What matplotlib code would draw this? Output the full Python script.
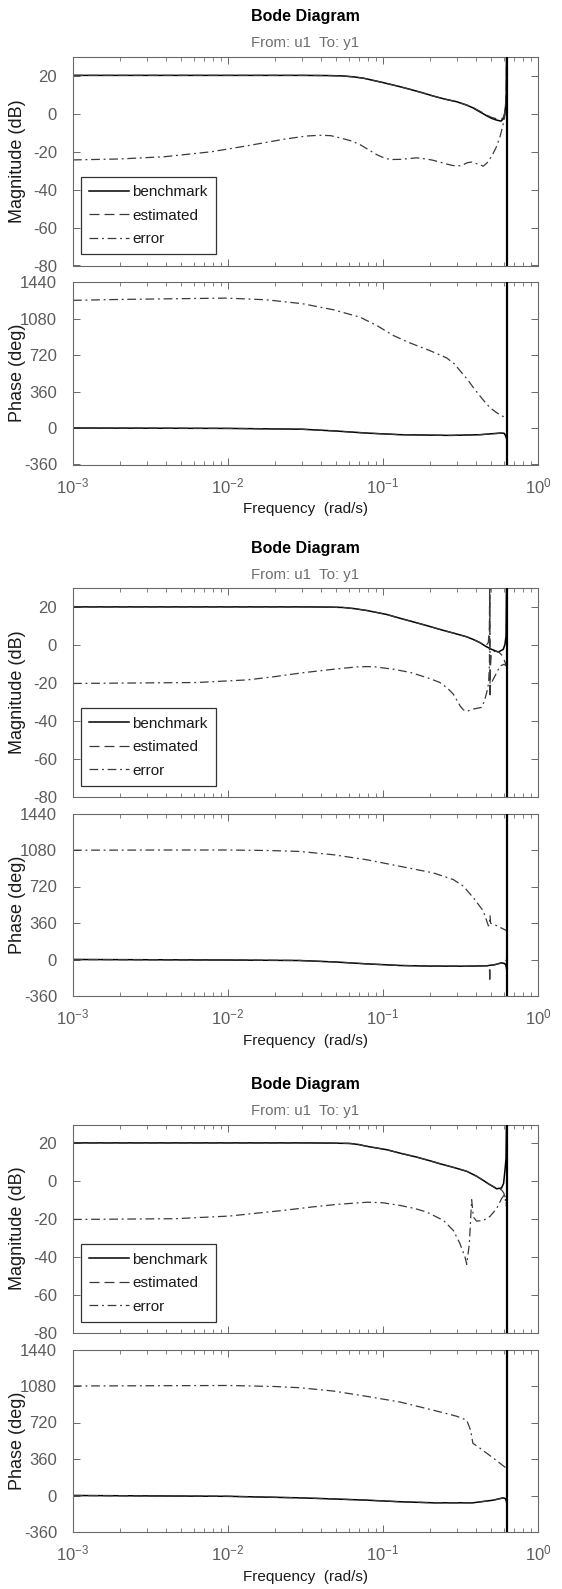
"""Three stacked Bode diagrams: benchmark vs estimated model and their error."""

import matplotlib
matplotlib.use("Agg")
import matplotlib.pyplot as plt
from matplotlib.ticker import LogLocator, NullFormatter, FixedLocator

plt.rcParams["font.family"] = ["Liberation Sans", "DejaVu Sans"]
plt.rcParams["mathtext.fontset"] = "custom"
plt.rcParams["mathtext.rm"] = "Liberation Sans"
plt.rcParams["mathtext.it"] = "Liberation Sans:italic"
plt.rcParams["mathtext.bf"] = "Liberation Sans:bold"
plt.rcParams["axes.unicode_minus"] = False

NYQUIST = 0.628

# ---------------- panel 1 ----------------
P1_MAG_FREQ = [0.001, 0.01, 0.03, 0.045, 0.055, 0.065, 0.075, 0.085, 0.1, 0.125, 0.15,
               0.18, 0.211, 0.25, 0.299, 0.347, 0.38, 0.402, 0.44, 0.466, 0.5, 0.541,
               0.577, 0.595, 0.608, 0.618, 0.624, 0.628]
P1_BENCH_MAG = [20.3, 20.3, 20.3, 20.2, 20.0, 19.5, 18.8, 17.8, 16.5, 14.6, 12.9,
                11.1, 9.4, 7.8, 6.4, 4.6, 3.2, 2.0, 0.2, -1.0, -2.3, -3.3,
                -3.8, -2.8, -0.5, 4.0, 11.0, 40.0]
P1_EST_MAG = [20.3, 20.3, 20.3, 20.2, 20.0, 19.5, 18.8, 17.8, 16.5, 14.6, 12.9,
              11.1, 9.4, 7.8, 6.4, 4.7, 3.4, 2.3, 0.6, -0.6, -1.8, -2.6,
              -2.9, -2.2, 0.0, 5.0, 11.0, 40.0]
P1_ERR_MAG_FREQ = [0.001, 0.002, 0.0039, 0.0078, 0.0134, 0.0229, 0.032, 0.039, 0.046,
                   0.053, 0.062, 0.071, 0.081, 0.091, 0.1, 0.111, 0.13, 0.165, 0.19,
                   0.211, 0.25, 0.28, 0.299, 0.315, 0.33, 0.35, 0.373, 0.41, 0.444,
                   0.47, 0.502, 0.535, 0.569, 0.59, 0.604, 0.615, 0.622, 0.628]
P1_ERR_MAG = [-24.3, -23.8, -22.6, -20.0, -16.8, -13.4, -11.7, -11.3, -11.5,
              -12.7, -14.2, -16.2, -19.0, -21.5, -23.0, -24.1, -24.0, -23.2, -23.8,
              -24.5, -26.2, -27.2, -27.5, -27.3, -26.8, -25.8, -25.4, -26.5, -27.6,
              -25.8, -22.4, -18.0, -12.0, -7.0, -3.3, 0.5, 3.7, 5.0]
P1_PH_FREQ = [0.001, 0.01, 0.03, 0.05, 0.0785, 0.129, 0.27, 0.423, 0.569, 0.605, 0.615,
              0.622, 0.628]
P1_BENCH_PH = [0, -4, -12, -30, -50, -66, -73, -66, -50, -52, -70, -90, -110]
P1_EST_PH = [0, -4, -12, -30, -50, -66, -73, -66, -52, -50, -60, -80, -95]
P1_ERR_PH_FREQ = [0.001, 0.002, 0.0046, 0.0097, 0.0175, 0.0302, 0.0479, 0.0711, 0.0912,
                  0.1167, 0.1493, 0.2009, 0.2576, 0.29, 0.3141, 0.35, 0.3828, 0.42,
                  0.4667, 0.5, 0.5408, 0.58, 0.6223, 0.628]
P1_ERR_PH = [1259, 1268, 1275, 1281, 1265, 1226, 1166, 1093, 1011,
             912, 839, 763, 691, 630, 565, 480, 399, 320,
             235, 190, 151, 122, 102, 100]

# ---------------- panel 2 ----------------
P2_BENCH_MAG_FREQ = [0.001, 0.01, 0.03, 0.045, 0.055, 0.065, 0.0785, 0.1057, 0.13, 0.165,
                     0.2, 0.233, 0.29, 0.347, 0.385, 0.423, 0.46, 0.502, 0.555, 0.597,
                     0.612, 0.622, 0.628]
P2_BENCH_MAG = [20.3, 20.3, 20.3, 20.2, 20.0, 19.4, 18.4, 16.3, 14.2, 11.9,
                10.0, 8.4, 6.3, 4.5, 3.0, 1.4, -0.5, -2.1, -3.5, -2.1,
                0.5, 4.9, 40.0]
P2_EST_MAG_FREQ = [0.001, 0.01, 0.03, 0.045, 0.055, 0.065, 0.0785, 0.1057, 0.13, 0.165,
                   0.2, 0.233, 0.29, 0.347, 0.385, 0.423, 0.46, 0.478, 0.486, 0.4885,
                   0.4905, 0.493, 0.5, 0.53, 0.56, 0.59, 0.61, 0.628]
P2_EST_MAG = [20.3, 20.3, 20.3, 20.2, 20.0, 19.4, 18.4, 16.3, 14.2, 11.9,
              10.0, 8.4, 6.3, 4.5, 3.0, 1.4, -0.3, 1.5, 10.0, 45.0,
              -27.5, -12.0, -4.0, -3.0, -3.6, -5.5, -8.5, -11.0]
P2_ERR_MAG_FREQ = [0.001, 0.0063, 0.0134, 0.02, 0.03, 0.0479, 0.0671, 0.0785, 0.0882,
                   0.1167, 0.1507, 0.2, 0.233, 0.26, 0.284, 0.3, 0.314, 0.33, 0.347,
                   0.383, 0.434, 0.45, 0.467, 0.48, 0.486, 0.4885, 0.4905, 0.5, 0.515,
                   0.569, 0.604, 0.628]
P2_ERR_MAG = [-20.1, -19.6, -18.2, -16.5, -14.5, -12.6, -11.4, -11.2, -11.3,
              -12.6, -14.3, -17.5, -19.6, -22.5, -25.7, -29.0, -31.9, -34.0, -34.8,
              -33.6, -32.7, -29.5, -24.8, -20.0, -10.0, 45.0, -22.0, -20.0, -17.8,
              -10.9, -10.0, -11.0]
P2_BENCH_PH_FREQ = [0.001, 0.01, 0.029, 0.05, 0.0785, 0.1288, 0.2009, 0.3468, 0.4667,
                    0.53, 0.582, 0.61, 0.622, 0.628]
P2_BENCH_PH = [0, -5, -10, -25, -43, -59, -65, -66, -62, -50, -33, -40, -60, -100]
P2_EST_PH_FREQ = [0.001, 0.01, 0.029, 0.05, 0.0785, 0.1288, 0.2009, 0.3468, 0.4667,
                  0.486, 0.4885, 0.4905, 0.493, 0.53, 0.582, 0.61, 0.622, 0.628]
P2_EST_PH = [0, -5, -10, -25, -43, -59, -65, -66, -62,
             -64, -222, -80, -62, -50, -33, -25, -12, 0]
P2_ERR_PH_FREQ = [0.001, 0.004, 0.01, 0.018, 0.029, 0.0479, 0.0785, 0.1288, 0.2113,
                  0.2844, 0.3296, 0.3828, 0.4436, 0.4786, 0.486, 0.4905, 0.495, 0.54,
                  0.628]
P2_ERR_PH = [1078, 1080, 1080, 1075, 1066, 1033, 984, 919, 854,
             788, 724, 609, 479, 332, 340, 430, 357, 335,
             284]

# ---------------- panel 3 ----------------
P3_MAG_FREQ = [0.001, 0.01, 0.03, 0.045, 0.0612, 0.07, 0.0785, 0.1057, 0.13, 0.165,
               0.2, 0.233, 0.29, 0.347, 0.4, 0.4436, 0.49, 0.541, 0.582, 0.6, 0.612,
               0.622, 0.628]
P3_BENCH_MAG = [20.3, 20.3, 20.3, 20.2, 20.0, 19.4, 18.5, 16.7, 14.8, 12.8,
                10.9, 9.3, 7.2, 5.3, 2.8, 0.5, -1.8, -3.9, -3.5, -1.0, 5.8,
                12.0, 40.0]
P3_EST_MAG = [20.3, 20.3, 20.3, 20.2, 20.0, 19.4, 18.5, 16.7, 14.8, 12.8,
              10.9, 9.3, 7.2, 5.3, 2.8, 0.5, -1.8, -3.6, -4.5, -6.0, -8.0,
              -10.5, -13.5]
P3_ERR_MAG_FREQ = [0.001, 0.00456, 0.0102, 0.0229, 0.035, 0.0513, 0.0794, 0.1, 0.1288,
                   0.16, 0.1914, 0.2455, 0.2844, 0.314, 0.338, 0.347, 0.3606, 0.3733,
                   0.3828, 0.4018, 0.4436, 0.4898, 0.5408, 0.5821, 0.6026, 0.615, 0.628]
P3_ERR_MAG = [-20.1, -19.7, -18.3, -15.3, -13.5, -12.1, -11.0, -11.3, -12.7,
              -14.3, -16.2, -20.6, -25.9, -32.9, -39.9, -43.8, -32.9, -9.7,
              -18.8, -21.0, -20.6, -18.5, -14.4, -9.1, -7.4, -9.5, -13.5]
P3_PH_FREQ = [0.001, 0.01, 0.029, 0.05, 0.0785, 0.13, 0.2113, 0.3802, 0.515, 0.5957,
              0.615, 0.622, 0.628]
P3_BENCH_PH = [0, -8, -23, -35, -46, -62, -72, -72, -46, -23, -30, -45, -70]
P3_EST_PH = [0, -8, -23, -35, -46, -62, -72, -72, -46, -23, -18, -10, 0]
P3_ERR_PH_FREQ = [0.001, 0.004, 0.01, 0.02, 0.029, 0.0479, 0.0785, 0.1288, 0.2113,
                  0.2985, 0.3467, 0.3673, 0.3802, 0.4227, 0.515, 0.6223, 0.628]
P3_ERR_PH = [1080, 1083, 1085, 1075, 1063, 1030, 978, 922, 841,
             782, 743, 645, 515, 466, 369, 271, 268]

PANELS = [
    dict(bench_mag=(P1_MAG_FREQ, P1_BENCH_MAG), est_mag=(P1_MAG_FREQ, P1_EST_MAG),
         err_mag=(P1_ERR_MAG_FREQ, P1_ERR_MAG), bench_ph=(P1_PH_FREQ, P1_BENCH_PH),
         est_ph=(P1_PH_FREQ, P1_EST_PH), err_ph=(P1_ERR_PH_FREQ, P1_ERR_PH)),
    dict(bench_mag=(P2_BENCH_MAG_FREQ, P2_BENCH_MAG), est_mag=(P2_EST_MAG_FREQ, P2_EST_MAG),
         err_mag=(P2_ERR_MAG_FREQ, P2_ERR_MAG), bench_ph=(P2_BENCH_PH_FREQ, P2_BENCH_PH),
         est_ph=(P2_EST_PH_FREQ, P2_EST_PH), err_ph=(P2_ERR_PH_FREQ, P2_ERR_PH)),
    dict(bench_mag=(P3_MAG_FREQ, P3_BENCH_MAG), est_mag=(P3_MAG_FREQ, P3_EST_MAG),
         err_mag=(P3_ERR_MAG_FREQ, P3_ERR_MAG), bench_ph=(P3_PH_FREQ, P3_BENCH_PH),
         est_ph=(P3_PH_FREQ, P3_EST_PH), err_ph=(P3_ERR_PH_FREQ, P3_ERR_PH)),
]

MAG_TICKS = [-80, -60, -40, -20, 0, 20]
PH_TICKS = [-360, 0, 360, 720, 1080, 1440]

W, H = 562, 1589
LEFT, WIDTH = 73, 465
OFFSETS = [0, 531.5, 1067.5]

GRAY = "#5c5c5c"
EDGE = "#6a6a6a"
STYLES = {
    "bench": dict(color="black", lw=1.1, ls="-"),
    "est": dict(color="#3a3a3a", lw=0.9, ls=(0, (8, 4))),
    "err": dict(color="#3a3a3a", lw=0.9, ls=(0, (7, 3, 1.5, 3))),
}


def make_axes(fig, top, height):
    ax = fig.add_axes([LEFT / W, 1 - (top + height) / H, WIDTH / W, height / H])
    ax.set_xscale("log")
    ax.set_xlim(1e-3, 1)
    ax.xaxis.set_major_locator(LogLocator(base=10, numticks=10))
    ax.xaxis.set_minor_locator(LogLocator(base=10, subs=range(2, 10), numticks=10))
    ax.xaxis.set_minor_formatter(NullFormatter())
    ax.tick_params(which="both", direction="in", top=True, right=True,
                   colors=EDGE, labelcolor=GRAY, labelsize=12)
    ax.tick_params(which="major", length=5, width=0.7)
    ax.tick_params(which="minor", length=3, width=0.6)
    ax.tick_params(axis="y", pad=11.5)
    ax.tick_params(axis="x", pad=8.5)
    for sp in ax.spines.values():
        sp.set_color(EDGE)
        sp.set_linewidth(0.8)
    ax.axvline(NYQUIST, color="black", lw=1.6, zorder=4)
    return ax


def draw_panel(fig, off, data):
    ax_m = make_axes(fig, off + 57, 208.5)
    ax_p = make_axes(fig, off + 282, 182.5)

    for key, label in [("bench", "benchmark"), ("est", "estimated"), ("err", "error")]:
        f, v = data[key + "_mag"]
        ax_m.plot(f, v, label=label, **STYLES[key])
        f, v = data[key + "_ph"]
        ax_p.plot(f, v, **STYLES[key])

    ax_m.set_ylim(-80, 30)
    ax_m.yaxis.set_major_locator(FixedLocator(MAG_TICKS))
    ax_m.tick_params(axis="x", labelbottom=False)
    ax_p.set_ylim(-360, 1440)
    ax_p.yaxis.set_major_locator(FixedLocator(PH_TICKS))

    leg = ax_m.legend(loc="lower left", bbox_to_anchor=(0.017, 0.053), borderaxespad=0,
                      fontsize=11, frameon=True, fancybox=False, framealpha=1,
                      edgecolor="#333333", handlelength=2.6, handletextpad=0.2,
                      labelspacing=0.62, borderpad=0.55)
    leg.get_frame().set_linewidth(0.9)
    for t in leg.get_texts():
        t.set_color("#1a1a1a")

    cx = (LEFT + WIDTH / 2) / W
    fig.text(cx, 1 - (off + 17) / H, "Bode Diagram", ha="center", va="center",
             fontsize=11.5, fontweight="bold", color="black")
    fig.text(cx, 1 - (off + 43) / H, "From: u1  To: y1", ha="center", va="center",
             fontsize=10.8, color="#6e6e6e")
    fig.text(cx, 1 - (off + 509) / H, "Frequency  (rad/s)", ha="center", va="center",
             fontsize=11, color="#1a1a1a")
    fig.text(18 / W, 1 - (off + 57 + 104) / H, "Magnitude (dB)", rotation=90,
             ha="center", va="center", fontsize=13, color="#1a1a1a")
    fig.text(18 / W, 1 - (off + 282 + 91) / H, "Phase (deg)", rotation=90,
             ha="center", va="center", fontsize=13, color="#1a1a1a")


fig = plt.figure(figsize=(W / 100, H / 100), dpi=100)
for off, data in zip(OFFSETS, PANELS):
    draw_panel(fig, off, data)

fig.savefig("out.png", dpi=100, facecolor="white")
